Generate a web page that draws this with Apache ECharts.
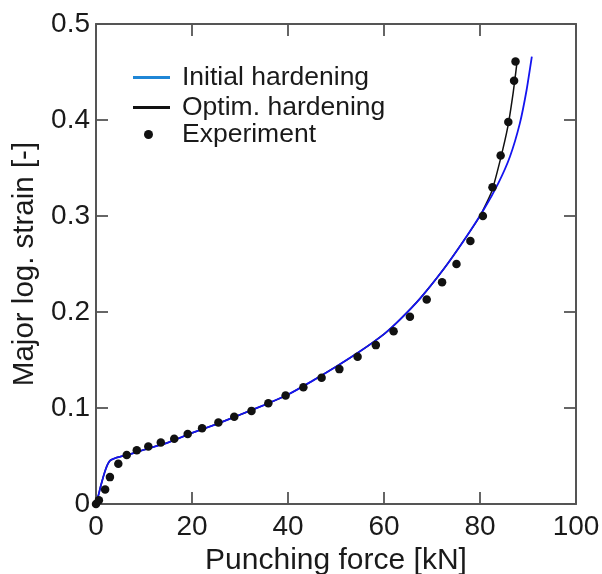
<!DOCTYPE html>
<html>
<head>
<meta charset="utf-8">
<script src="https://cdn.jsdelivr.net/npm/echarts@6/dist/echarts.min.js"></script>
<style>html,body{margin:0;padding:0;background:#fff}#c{width:602px;height:574px}</style>
</head>
<body>
<div id="c"></div>
<script>
// Punching force [kN]
const initForce = [0, 0.5, 1, 1.5, 2, 2.5, 3, 4, 5, 7, 10, 15, 20, 25, 30, 35, 40, 45, 50, 55, 60, 63.3, 67.5, 72.4, 76.5, 80.7, 83.8, 86.25, 88.3, 89.7, 90.8];
const initStrain = [0, 0.009, 0.019, 0.028, 0.036, 0.042, 0.0455, 0.0478, 0.0492, 0.0518, 0.0565, 0.064, 0.074, 0.083, 0.093, 0.103, 0.114, 0.128, 0.143, 0.159, 0.177, 0.192, 0.214, 0.2445, 0.2735, 0.306, 0.334, 0.362, 0.3965, 0.431, 0.466];

const optimForce = [0, 0.5, 1, 1.5, 2, 2.5, 3, 4, 5, 7, 10, 15, 20, 25, 30, 35, 40, 45, 50, 55, 60, 63.3, 67.5, 72.4, 76.5, 80, 82.4, 84.2, 85.8, 86.9, 87.6, 87.7];
const optimStrain = [0, 0.009, 0.019, 0.028, 0.036, 0.042, 0.0455, 0.0478, 0.0492, 0.0518, 0.0565, 0.064, 0.074, 0.083, 0.093, 0.103, 0.114, 0.128, 0.143, 0.159, 0.177, 0.192, 0.214, 0.2445, 0.2735, 0.300, 0.325, 0.358, 0.393, 0.428, 0.4556, 0.462];

const expForce = [0, 0.6, 1.9, 2.9, 4.65, 6.4, 8.5, 10.9, 13.5, 16.3, 19.1, 22.1, 25.5, 28.8, 32.4, 35.9, 39.5, 43.2, 47, 50.7, 54.5, 58.3, 62, 65.4, 68.9, 72.1, 75.1, 78, 80.6, 82.6, 84.3, 85.9, 87.1, 87.4];
const expStrain = [0, 0.004, 0.015, 0.028, 0.042, 0.051, 0.056, 0.060, 0.064, 0.068, 0.073, 0.079, 0.085, 0.091, 0.097, 0.105, 0.113, 0.1215, 0.1315, 0.1405, 0.1535, 0.1655, 0.180, 0.195, 0.213, 0.231, 0.250, 0.274, 0.300, 0.330, 0.363, 0.398, 0.441, 0.461];

const xTicks = [0, 20, 40, 60, 80, 100];
const yTicks = [0, 0.1, 0.2, 0.3, 0.4, 0.5];

const pairs = (xs, ys) => xs.map((x, i) => [x, ys[i]]);

const FONT = 'Liberation Sans, Arial, sans-serif';
const frame = () => ({ show: true, onZero: false, lineStyle: { color: '#555', width: 2 } });
const tick = () => ({ show: true, inside: true, length: 12, lineStyle: { color: '#555', width: 1.8 } });

const chart = echarts.init(document.getElementById('c'), null, { renderer: 'canvas' });
chart.setOption({
  animation: false,
  backgroundColor: '#fff',
  grid: { left: 96, right: 26, top: 24, bottom: 70, containLabel: false, outerBoundsMode: 'none' },
  legend: [
    {
      left: 128, top: 59, orient: 'vertical', itemWidth: 37, itemHeight: 3, itemGap: 3,
      icon: 'rect', selectedMode: false,
      textStyle: { fontFamily: FONT, fontSize: 26.5, color: '#1a1a1a', padding: [0, 0, 0, 7] },
      data: [
        { name: 'Initial hardening', itemStyle: { color: '#1f86d6' } },
        { name: 'Optim. hardening', itemStyle: { color: '#111' } }
      ]
    },
    {
      left: 139, top: 116, itemWidth: 37, itemHeight: 9,
      icon: 'circle', selectedMode: false,
      textStyle: { fontFamily: FONT, fontSize: 26.5, color: '#1a1a1a', padding: [0, 0, 0, 10] },
      data: [{ name: 'Experiment', itemStyle: { color: '#111' } }]
    }
  ],
  xAxis: [
    {
      type: 'value', position: 'bottom', min: xTicks[0], max: xTicks[xTicks.length - 1], interval: 20,
      axisLine: frame(), axisTick: tick(), splitLine: { show: false },
      axisLabel: { fontFamily: FONT, fontSize: 28, color: '#1a1a1a', margin: 9 },
      name: 'Punching force [kN]', nameLocation: 'middle', nameGap: 34,
      nameTextStyle: { fontFamily: FONT, fontSize: 30, color: '#1a1a1a' }
    },
    {
      type: 'value', position: 'top', min: xTicks[0], max: xTicks[xTicks.length - 1], interval: 20,
      axisLine: frame(), axisTick: tick(), splitLine: { show: false }, axisLabel: { show: false }
    }
  ],
  yAxis: [
    {
      type: 'value', position: 'left', min: yTicks[0], max: yTicks[yTicks.length - 1], interval: 0.1,
      axisLine: frame(), axisTick: tick(), splitLine: { show: false },
      axisLabel: { fontFamily: FONT, fontSize: 28, color: '#1a1a1a', margin: 6 },
      name: 'Major log. strain [-]', nameLocation: 'middle', nameGap: 42,
      nameTextStyle: { fontFamily: FONT, fontSize: 29.5, color: '#1a1a1a' }
    },
    {
      type: 'value', position: 'right', min: yTicks[0], max: yTicks[yTicks.length - 1], interval: 0.1,
      axisLine: frame(), axisTick: tick(), splitLine: { show: false }, axisLabel: { show: false }
    }
  ],
  series: [
    {
      name: 'Optim. hardening', type: 'line', data: pairs(optimForce, optimStrain),
      showSymbol: false, symbol: 'none', smooth: 0.15,
      lineStyle: { color: '#111', width: 1.5 }, itemStyle: { color: '#111' }, z: 2
    },
    {
      name: 'Initial hardening', type: 'line', data: pairs(initForce, initStrain),
      showSymbol: false, symbol: 'none', smooth: 0.15,
      lineStyle: { color: '#1414f0', width: 1.8 }, itemStyle: { color: '#1414f0' }, z: 3
    },
    {
      name: 'Experiment', type: 'scatter', data: pairs(expForce, expStrain),
      symbol: 'circle', symbolSize: 8.5, itemStyle: { color: '#111', opacity: 1 }, z: 4
    }
  ]
});
</script>
</body>
</html>
